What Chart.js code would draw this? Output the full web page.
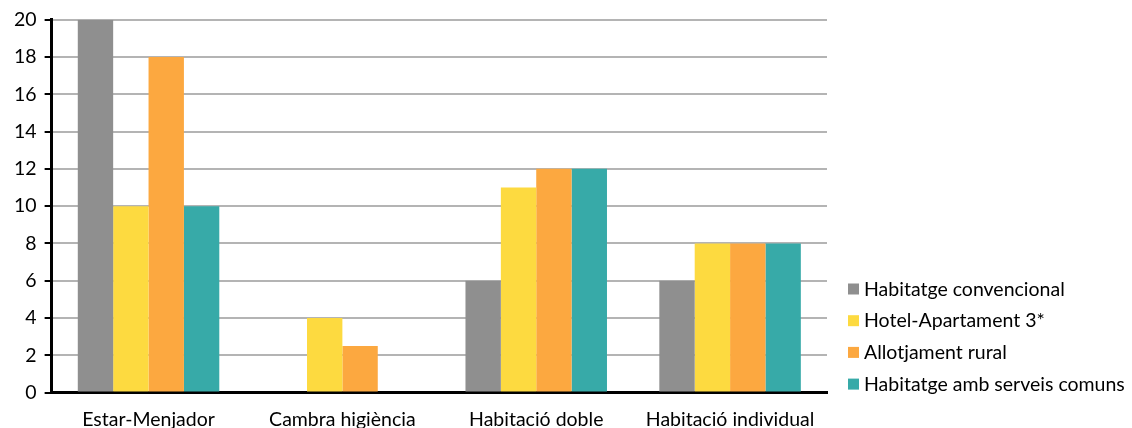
<!DOCTYPE html>
<html>
<head>
<meta charset="utf-8">
<script src="https://cdn.jsdelivr.net/npm/chart.js@4/dist/chart.umd.min.js"></script>
<style>
  html, body { margin: 0; padding: 0; overflow: hidden; background: #fff; }
  #wrap { width: 1132px; height: 452px; position: relative; }
</style>
</head>
<body>
<div id="wrap"><canvas id="chart"></canvas></div>
<script>
const categories = ['Estar-Menjador', 'Cambra higiència', 'Habitació doble', 'Habitació individual'];
const convencional = [20, 0, 6, 6];
const hotelApartament = [10, 4, 11, 8];
const rural = [18, 2.5, 12, 8];
const serveisComuns = [10, 0, 12, 8];
const yTicks = [0, 2, 4, 6, 8, 10, 12, 14, 16, 18, 20];

const font = { family: 'Lato, "Open Sans", sans-serif', size: 19.5 };

const data = {
  labels: categories,
  datasets: [
    { label: 'Habitatge convencional', data: convencional, backgroundColor: '#8f8f8f' },
    { label: 'Hotel-Apartament 3*', data: hotelApartament, backgroundColor: '#fdda40' },
    { label: 'Allotjament rural', data: rural, backgroundColor: '#fca840' },
    { label: 'Habitatge amb serveis comuns', data: serveisComuns, backgroundColor: '#37aaa8' }
  ]
};

// legend drawn beside the plot, bottom aligned like the spreadsheet original
const sideLegend = {
  id: 'sideLegend',
  afterDraw(chart) {
    const ctx = chart.ctx;
    const area = chart.chartArea;
    const sets = chart.data.datasets;
    ctx.save();
    ctx.font = font.size + 'px ' + font.family;
    ctx.textBaseline = 'middle';
    ctx.textAlign = 'left';
    sets.forEach((ds, i) => {
      const y = area.bottom - 8 - (sets.length - 1 - i) * 31.7;
      ctx.fillStyle = ds.backgroundColor;
      ctx.fillRect(area.right + 21, y - 6, 11, 11);
      ctx.fillStyle = '#000';
      ctx.fillText(ds.label, area.right + 37, y);
    });
    ctx.restore();
  }
};

const config = {
  type: 'bar',
  data,
  plugins: [sideLegend],
  options: {
    responsive: true,
    maintainAspectRatio: false,
    animation: false,
    datasets: {
      bar: { barPercentage: 1, categoryPercentage: 0.73 }
    },
    layout: { padding: { top: 14, left: 6, right: 305, bottom: 6 } },
    plugins: {
      tooltip: { enabled: false },
      legend: { display: false }
    },
    scales: {
      x: {
        grid: { display: false, drawTicks: false },
        border: { color: '#000', width: 3 },
        ticks: { color: '#000', font, padding: 15, maxRotation: 0 }
      },
      y: {
        min: 0,
        max: 20,
        afterBuildTicks: axis => { axis.ticks = yTicks.map(v => ({ value: v })); },
        grid: { color: '#b4b4b4', lineWidth: 2, tickColor: '#000', tickLength: 7, tickWidth: 2 },
        border: { color: '#000', width: 3 },
        ticks: { color: '#000', font, padding: 8 }
      }
    }
  }
};

var chart = new Chart(document.getElementById('chart'), config);
</script>
</body>
</html>
